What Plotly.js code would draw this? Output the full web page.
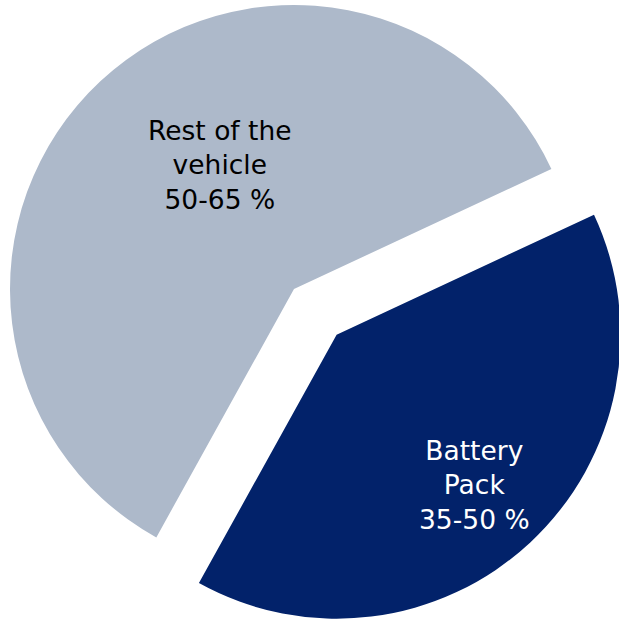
<!DOCTYPE html>
<html>
<head>
<meta charset="utf-8">
<script src="https://cdn.plot.ly/plotly-3.0.1.min.js"></script>
<style>
  html, body { margin: 0; padding: 0; overflow: hidden; background: #ffffff; width: 619px; height: 621px; }
  #chart { position: absolute; left: -80px; top: -80px; width: 800px; height: 800px; }
</style>
</head>
<body>
<div id="chart"></div>
<script>
// Data
const labels = ["Rest of the vehicle", "Battery Pack"];
const labelLines = [["Rest of the", "vehicle"], ["Battery", "Pack"]];
const rangeText = ["50-65 %", "35-50 %"];
const values = [60, 40];
const pulls = [0, 0.22];
const colors = ["#ADB9CA", "#02226A"];
const textColors = ["#000000", "#ffffff"];

const trace = {
  type: "pie",
  labels: labels,
  values: values,
  pull: pulls,
  sort: false,
  direction: "counterclockwise",
  rotation: -151,
  marker: { colors: colors, line: { width: 0 } },
  textinfo: "none",
  hoverinfo: "none",
  showlegend: false,
  domain: { x: [0.0344, 0.9006], y: [0.10565, 0.97185] }
};

const labelPos = [[0.375, 0.6938], [0.6931, 0.2938]];
const annotations = labels.map((l, i) => ({
  xref: "paper", yref: "paper",
  x: labelPos[i][0], y: labelPos[i][1],
  xanchor: "center", yanchor: "middle",
  showarrow: false,
  align: "center",
  text: labelLines[i].join("<br>") + "<br>" + rangeText[i],
  font: { family: "DejaVu Sans", size: 26.5, color: textColors[i] }
}));

const layout = {
  width: 800, height: 800,
  margin: { l: 0, r: 0, t: 0, b: 0, pad: 0 },
  paper_bgcolor: "#ffffff",
  plot_bgcolor: "#ffffff",
  showlegend: false,
  annotations: annotations
};

Plotly.newPlot("chart", [trace], layout, { displayModeBar: false, staticPlot: true });
</script>
</body>
</html>
